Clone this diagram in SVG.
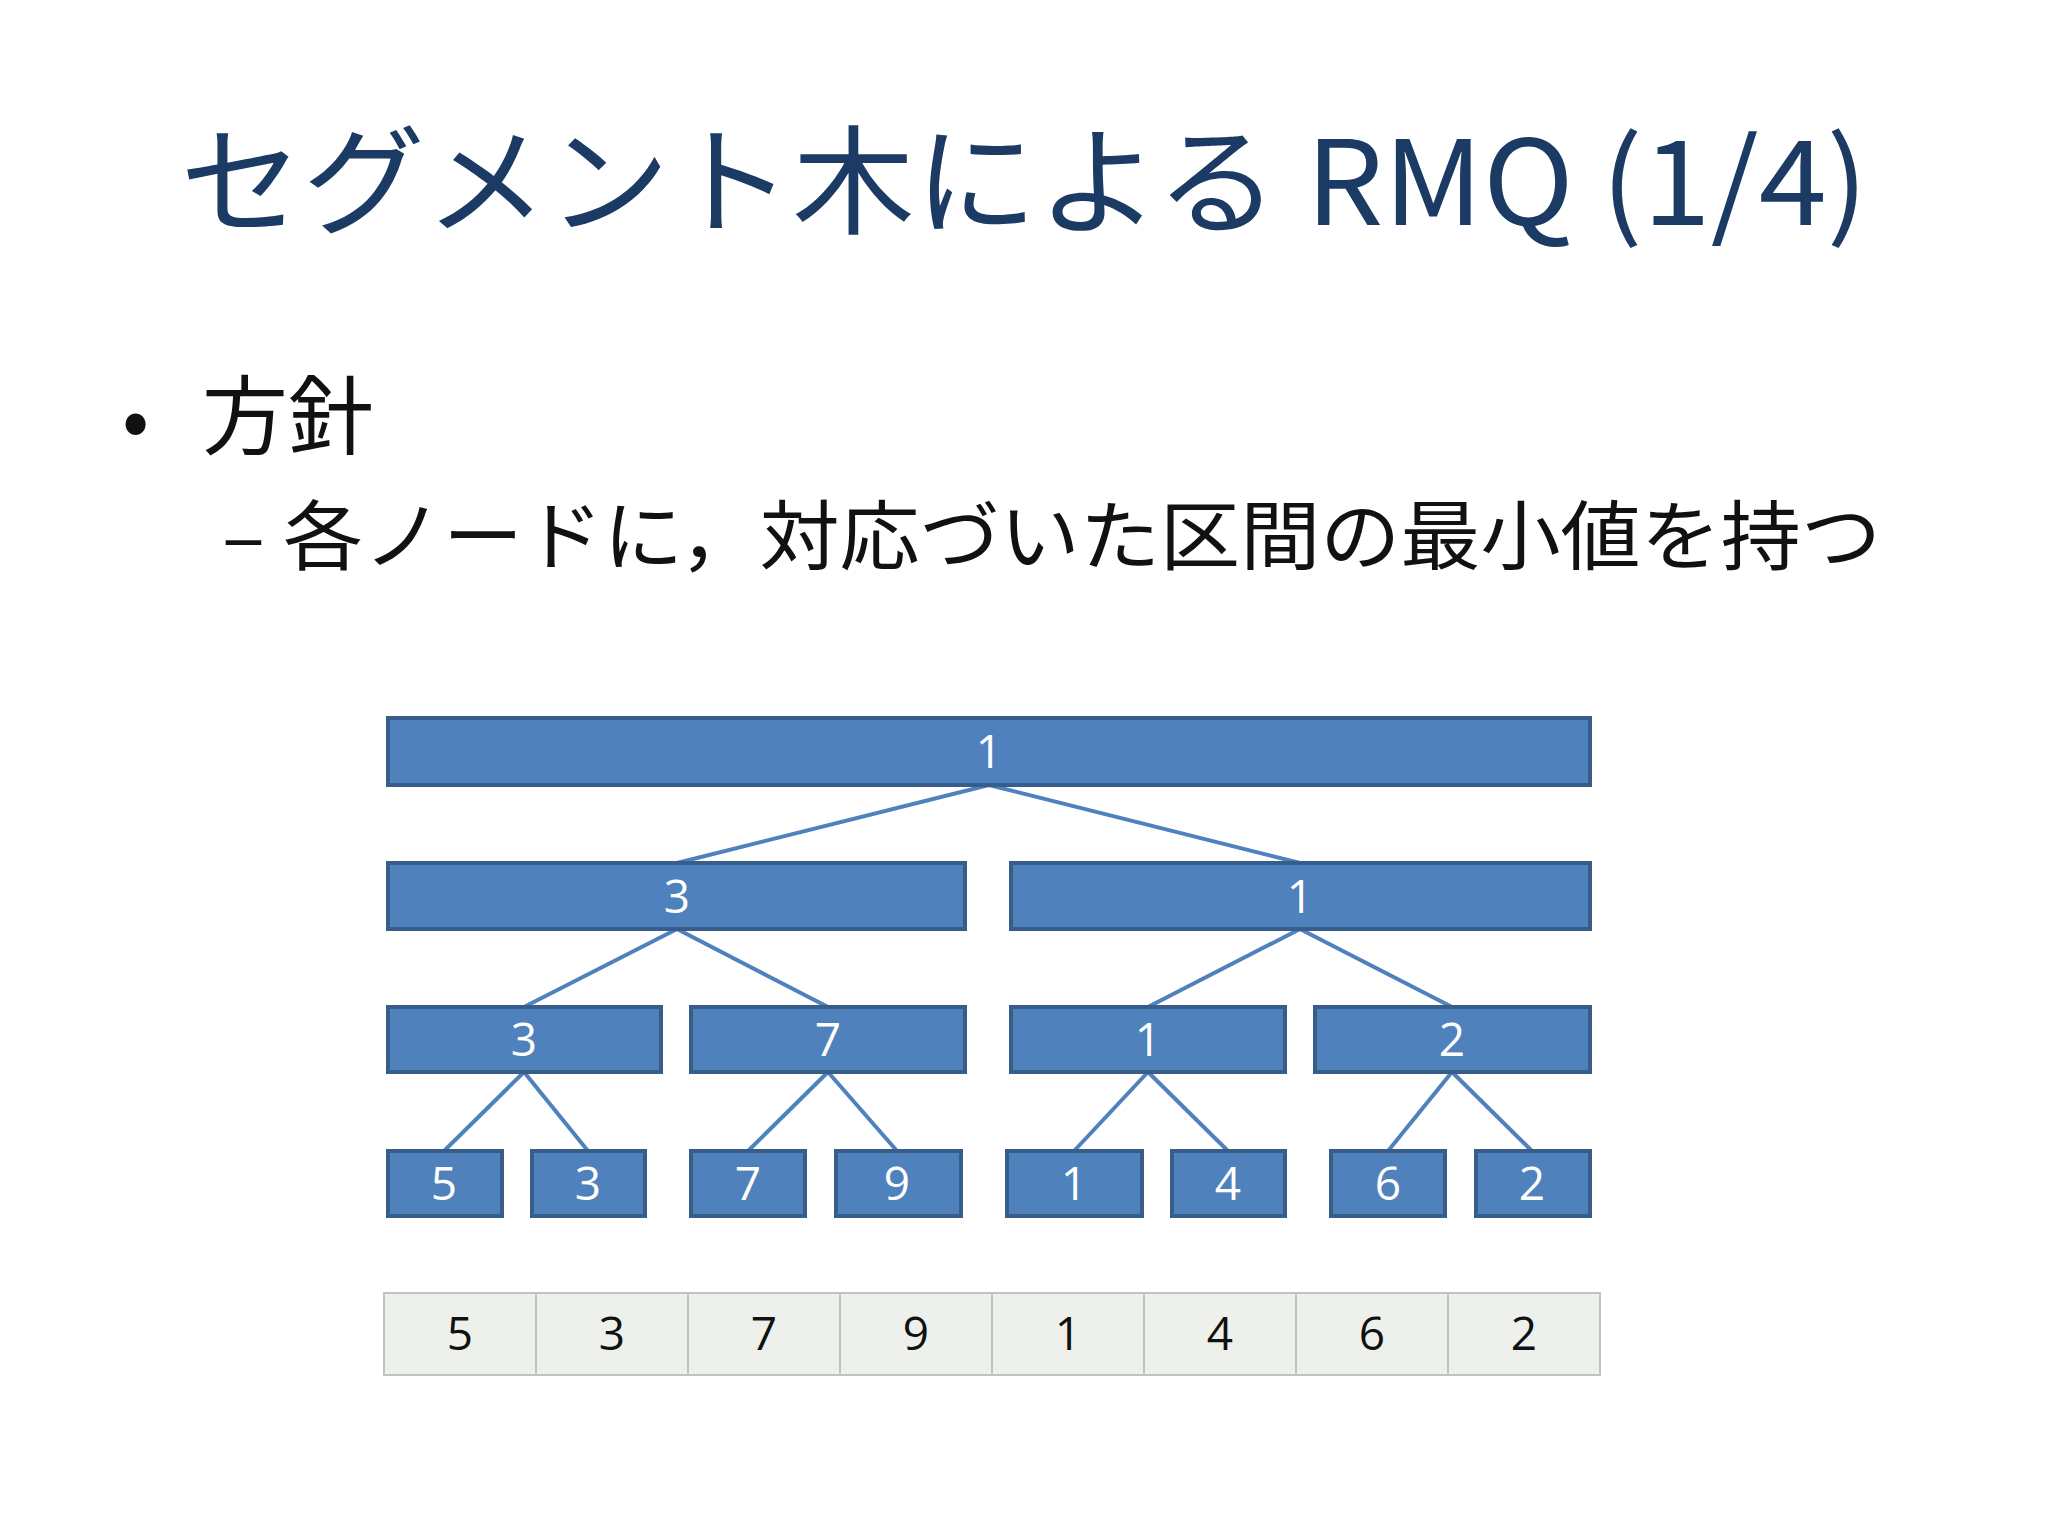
<svg xmlns="http://www.w3.org/2000/svg" width="2048" height="1536" viewBox="0 0 2048 1536">
<style>
.n rect{fill:#4f81bd;stroke:#385d8a;stroke-width:4}
.n text{fill:#fff;font-family:"Open Sans","Noto Sans",sans-serif;font-size:46px;text-anchor:middle}
.e line{stroke:#4f81bd;stroke-width:4}
.a rect{fill:#eef1eb;stroke:#c0c4bd;stroke-width:2}
.a text{fill:#111;font-family:"Open Sans","Noto Sans",sans-serif;font-size:46px;text-anchor:middle}
.j{font-family:"Noto Sans CJK JP","Noto Sans",sans-serif}
</style>
<rect width="2048" height="1536" fill="#fff"/>
<text class="j" x="180" y="225" font-size="118" fill="#1b3a64" textLength="1688" lengthAdjust="spacingAndGlyphs">セグメント木による RMQ (1/4)</text>
<text class="j" x="122" y="448" font-size="80" fill="#111">•</text>
<text class="j" x="202" y="448" font-size="86" fill="#111">方針</text>
<text class="j" x="222" y="564" font-size="76" fill="#111" textLength="1659" lengthAdjust="spacingAndGlyphs">– 各ノードに，対応づいた区間の最小値を持つ</text>
<g class="e">
<line x1="989" y1="785" x2="677" y2="863"/><line x1="989" y1="785" x2="1300" y2="863"/>
<line x1="677" y1="929" x2="524" y2="1007"/><line x1="677" y1="929" x2="828" y2="1007"/>
<line x1="1300" y1="929" x2="1148" y2="1007"/><line x1="1300" y1="929" x2="1452" y2="1007"/>
<line x1="524" y1="1072" x2="444" y2="1151"/><line x1="524" y1="1072" x2="588" y2="1151"/>
<line x1="828" y1="1072" x2="748" y2="1151"/><line x1="828" y1="1072" x2="897" y2="1151"/>
<line x1="1148" y1="1072" x2="1074" y2="1151"/><line x1="1148" y1="1072" x2="1228" y2="1151"/>
<line x1="1452" y1="1072" x2="1388" y2="1151"/><line x1="1452" y1="1072" x2="1532" y2="1151"/>
</g>
<g class="n" id="root"><rect x="388" y="718" width="1202" height="67"/><text x="989" y="768">1</text></g>
<g class="n" id="l2a"><rect x="388" y="863" width="577" height="66"/><text x="677" y="913">3</text></g>
<g class="n" id="l2b"><rect x="1011" y="863" width="579" height="66"/><text x="1300" y="913">1</text></g>
<g class="n" id="l3a"><rect x="388" y="1007" width="273" height="65"/><text x="524" y="1056">3</text></g>
<g class="n" id="l3b"><rect x="691" y="1007" width="274" height="65"/><text x="828" y="1056">7</text></g>
<g class="n" id="l3c"><rect x="1011" y="1007" width="274" height="65"/><text x="1148" y="1056">1</text></g>
<g class="n" id="l3d"><rect x="1315" y="1007" width="275" height="65"/><text x="1452" y="1056">2</text></g>
<g class="n" id="f1"><rect x="388" y="1151" width="114" height="65"/><text x="444" y="1200">5</text></g>
<g class="n" id="f2"><rect x="532" y="1151" width="113" height="65"/><text x="588" y="1200">3</text></g>
<g class="n" id="f3"><rect x="691" y="1151" width="114" height="65"/><text x="748" y="1200">7</text></g>
<g class="n" id="f4"><rect x="836" y="1151" width="125" height="65"/><text x="897" y="1200">9</text></g>
<g class="n" id="f5"><rect x="1007" y="1151" width="135" height="65"/><text x="1074" y="1200">1</text></g>
<g class="n" id="f6"><rect x="1172" y="1151" width="113" height="65"/><text x="1228" y="1200">4</text></g>
<g class="n" id="f7"><rect x="1331" y="1151" width="114" height="65"/><text x="1388" y="1200">6</text></g>
<g class="n" id="f8"><rect x="1476" y="1151" width="114" height="65"/><text x="1532" y="1200">2</text></g>
<g class="a" id="array">
<rect x="384" y="1293" width="152" height="82"/><text x="460" y="1350">5</text>
<rect x="536" y="1293" width="152" height="82"/><text x="612" y="1350">3</text>
<rect x="688" y="1293" width="152" height="82"/><text x="764" y="1350">7</text>
<rect x="840" y="1293" width="152" height="82"/><text x="916" y="1350">9</text>
<rect x="992" y="1293" width="152" height="82"/><text x="1068" y="1350">1</text>
<rect x="1144" y="1293" width="152" height="82"/><text x="1220" y="1350">4</text>
<rect x="1296" y="1293" width="152" height="82"/><text x="1372" y="1350">6</text>
<rect x="1448" y="1293" width="152" height="82"/><text x="1524" y="1350">2</text>
</g>
</svg>
